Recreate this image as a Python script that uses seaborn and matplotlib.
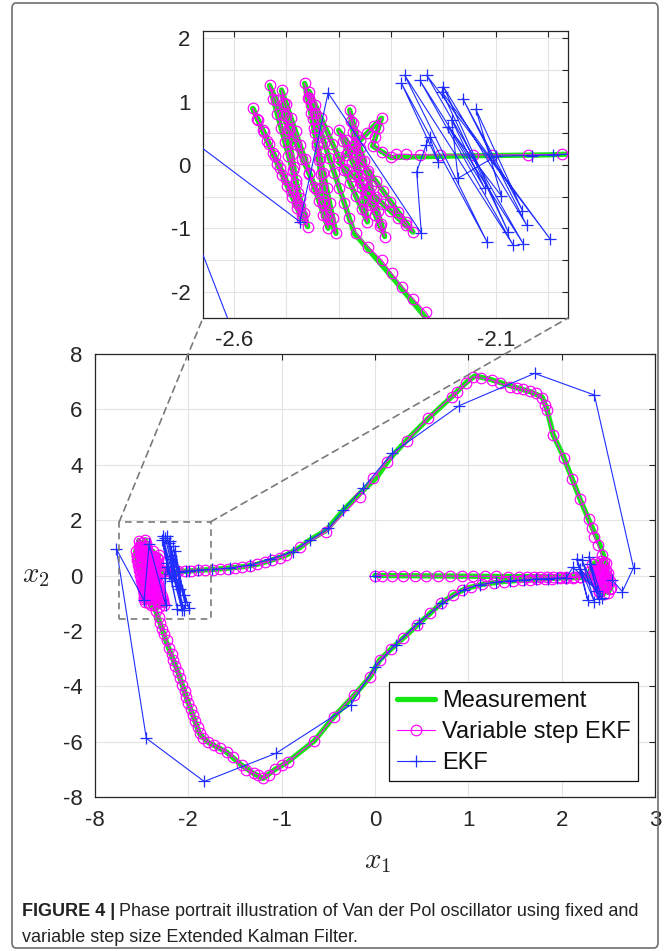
import matplotlib
matplotlib.use("Agg")
import matplotlib.pyplot as plt
import seaborn as sns
from matplotlib.lines import Line2D
from matplotlib.patches import Rectangle, ConnectionPatch, FancyBboxPatch

sns.set_theme(style="whitegrid")
plt.rcParams['font.family'] = ['Liberation Sans', 'DejaVu Sans']
plt.rcParams['mathtext.fontset'] = 'cm'
plt.rcParams['axes.unicode_minus'] = False

# ---- Measurement (green), vertices along the trajectory ----
meas_start_x = [0.00, 0.40, 0.80, 1.20, 1.60, 2.00, 2.28]
meas_start_y = [0.00, -0.01, -0.02, -0.03, -0.04, -0.05, -0.05]
meas_rclust_x = [2.33, 2.40, 2.37, 2.45, 2.42, 2.50, 2.47, 2.53, 2.36]
meas_rclust_y = [0.42, -0.60, 0.50, -0.66, 0.52, -0.62, 0.45, -0.45, -0.10]
meas_low_x = [2.20, 2.00, 1.73, 1.37, 1.15, 0.98, 0.84, 0.71, 0.59, 0.45, 0.30, 0.17, 0.05,
              -0.05, -0.23, -0.44, -0.65, -0.93, -1.07, -1.20, -1.30, -1.43, -1.59, -1.79,
              -1.88, -2.00, -2.11, -2.23, -2.30, -2.37]
meas_low_y = [-0.07, -0.09, -0.13, -0.22, -0.32, -0.46, -0.70, -1.00, -1.37, -1.80, -2.27, -2.66, -3.05,
              -3.65, -4.35, -5.10, -5.97, -6.72, -7.00, -7.33, -7.15, -6.85, -6.38, -6.02,
              -5.72, -4.60, -3.50, -2.45, -1.75, -1.08]
meas_lclust_x = [-2.465, -2.405, -2.532, -2.459, -2.564, -2.470, -2.509, -2.420, -2.456,
                 -2.345, -2.379, -2.312, -2.400, -2.258, -2.400, -2.318, -2.335, -2.300]
meas_lclust_y = [1.29, -1.08, 1.26, -0.975, 0.895, -0.85, 1.185, -1.00, 1.16,
                 -0.90, 0.87, -1.13, 0.55, -1.06, 0.04, 0.74, 0.30, 0.12]
meas_up_x = [-2.20, -2.10, -2.00, -1.90, -1.77, -1.59, -1.41, -1.27, -1.13, -0.95, -0.80, -0.70,
             -0.52, -0.34, -0.16, 0.02, 0.16, 0.34, 0.57, 0.82, 0.98, 1.07, 1.23, 1.45, 1.66,
             1.79, 1.84, 1.91, 2.02, 2.11, 2.20, 2.30, 2.41, 2.47]
meas_up_y = [0.14, 0.15, 0.16, 0.19, 0.21, 0.26, 0.32, 0.40, 0.53, 0.74, 1.02, 1.28,
             1.64, 2.36, 2.97, 3.55, 4.23, 4.89, 5.67, 6.45, 6.98, 7.21, 7.09, 6.85, 6.64,
             6.45, 6.03, 5.07, 4.29, 3.51, 2.73, 1.94, 1.10, 0.50]
meas_end_x = [2.40, 2.44, 2.52, 2.48]
meas_end_y = [-0.55, 0.40, -0.50, 0.20]

# ---- Variable step EKF (magenta circles) ----
vs_start_x = [0.00, 0.07, 0.18, 0.30, 0.43, 0.55, 0.68, 0.80, 0.93, 1.05, 1.18, 1.30,
              1.43, 1.54, 1.63, 1.70, 1.77, 1.84, 1.91, 1.98, 2.05, 2.13, 2.20, 2.28]
vs_start_y = [0.00, 0.00, -0.01, -0.01, -0.01, -0.02, -0.02, -0.02, -0.03, -0.03, -0.03, -0.03,
              -0.04, -0.04, -0.04, -0.04, -0.04, -0.05, -0.05, -0.05, -0.05, -0.05, -0.05, -0.05]
vs_rclust_x = [2.30, 2.33, 2.35, 2.37, 2.385, 2.40, 2.39, 2.38, 2.375, 2.37, 2.39, 2.41, 2.43, 2.45,
               2.44, 2.43, 2.425, 2.42, 2.44, 2.46, 2.48, 2.50, 2.49, 2.48, 2.47, 2.50, 2.52, 2.53,
               2.45, 2.36]
vs_rclust_y = [0.15, 0.42, 0.15, -0.15, -0.40, -0.60, -0.30, 0.00, 0.25, 0.50, 0.20, -0.10, -0.40, -0.66,
               -0.35, -0.05, 0.25, 0.52, 0.20, -0.10, -0.38, -0.62, -0.30, 0.05, 0.45, 0.10, -0.20, -0.45,
               -0.25, -0.10]
vs_low_x = [2.20, 2.12, 2.05, 1.98, 1.90, 1.82, 1.74, 1.66, 1.57, 1.48, 1.38, 1.27, 1.15, 1.03,
            0.93, 0.84, 0.71, 0.59, 0.45, 0.30, 0.17, 0.05, -0.05, -0.23, -0.44, -0.65, -0.93,
            -1.00, -1.07, -1.14, -1.20, -1.25, -1.30, -1.38, -1.43, -1.52, -1.59, -1.66, -1.73,
            -1.79, -1.84, -1.88, -1.90, -1.93, -1.95, -1.97, -2.00, -2.02, -2.04, -2.07, -2.09,
            -2.11, -2.14, -2.16, -2.18, -2.21, -2.233, -2.258, -2.279, -2.299, -2.318, -2.344, -2.366]
vs_low_y = [-0.07, -0.08, -0.09, -0.10, -0.11, -0.12, -0.13, -0.15, -0.17, -0.19, -0.22, -0.26, -0.32, -0.40,
            -0.52, -0.70, -1.00, -1.37, -1.80, -2.27, -2.66, -3.05, -3.65, -4.31, -5.10, -5.97, -6.72,
            -6.84, -7.00, -7.20, -7.32, -7.20, -7.14, -7.02, -6.84, -6.54, -6.36, -6.24, -6.12,
            -6.00, -5.88, -5.70, -5.48, -5.26, -5.04, -4.82, -4.60, -4.38, -4.16, -3.94, -3.72,
            -3.50, -3.28, -3.06, -2.84, -2.62, -2.33, -2.11, -1.92, -1.71, -1.50, -1.29, -1.08]
vs_lclust_x = [
    -2.380, -2.389, -2.399, -2.408, -2.418, -2.427, -2.437, -2.446, -2.456, -2.465,
    -2.459, -2.453, -2.447, -2.441, -2.435, -2.429, -2.423, -2.417, -2.411, -2.405,
    -2.418, -2.430, -2.443, -2.456, -2.469, -2.481, -2.494, -2.507, -2.519, -2.532,
    -2.525, -2.517, -2.510, -2.503, -2.496, -2.488, -2.481, -2.474, -2.466, -2.459,
    -2.470, -2.480, -2.491, -2.501, -2.512, -2.522, -2.533, -2.543, -2.554, -2.564,
    -2.555, -2.545, -2.536, -2.526, -2.517, -2.508, -2.498, -2.489, -2.479, -2.470,
    -2.474, -2.478, -2.482, -2.486, -2.490, -2.493, -2.497, -2.501, -2.505, -2.509,
    -2.500, -2.491, -2.482, -2.473, -2.465, -2.456, -2.447, -2.438, -2.429, -2.420,
    -2.424, -2.427, -2.431, -2.434, -2.438, -2.442, -2.445, -2.449, -2.452, -2.456,
    -2.445, -2.434, -2.423, -2.412, -2.401, -2.389, -2.378, -2.367, -2.356, -2.345,
    -2.348, -2.352, -2.355, -2.359, -2.362, -2.365, -2.369, -2.372, -2.376, -2.379,
    -2.372, -2.366, -2.359, -2.352, -2.346, -2.339, -2.332, -2.325, -2.319, -2.312,
    -2.321, -2.330, -2.338, -2.347, -2.356, -2.365, -2.374, -2.382, -2.391, -2.400,
    -2.386, -2.372, -2.357, -2.343, -2.329, -2.315, -2.301, -2.286, -2.272, -2.258,
    -2.272, -2.286, -2.301, -2.315, -2.329, -2.343, -2.357, -2.372, -2.386, -2.400,
    -2.386, -2.373, -2.359, -2.345, -2.332, -2.318,
    -2.324, -2.330, -2.335, -2.318, -2.300]
vs_lclust_y = [
    -0.843, -0.606, -0.369, -0.132, 0.105, 0.342, 0.579, 0.816, 1.053, 1.29,
    1.053, 0.816, 0.579, 0.342, 0.105, -0.132, -0.369, -0.606, -0.843, -1.08,
    -0.846, -0.612, -0.378, -0.144, 0.09, 0.324, 0.558, 0.792, 1.026, 1.26,
    1.037, 0.813, 0.59, 0.366, 0.143, -0.081, -0.305, -0.528, -0.752, -0.975,
    -0.788, -0.601, -0.414, -0.227, -0.04, 0.147, 0.334, 0.521, 0.708, 0.895,
    0.721, 0.546, 0.372, 0.197, 0.023, -0.152, -0.327, -0.501, -0.676, -0.85,
    -0.647, -0.443, -0.24, -0.036, 0.168, 0.371, 0.575, 0.778, 0.982, 1.185,
    0.967, 0.748, 0.53, 0.311, 0.093, -0.126, -0.345, -0.563, -0.782, -1.00,
    -0.784, -0.568, -0.352, -0.136, 0.08, 0.296, 0.512, 0.728, 0.944, 1.16,
    0.954, 0.748, 0.542, 0.336, 0.13, -0.076, -0.282, -0.488, -0.694, -0.90,
    -0.723, -0.546, -0.369, -0.192, -0.015, 0.162, 0.339, 0.516, 0.693, 0.87,
    0.67, 0.47, 0.27, 0.07, -0.13, -0.33, -0.53, -0.73, -0.93, -1.13,
    -0.962, -0.794, -0.626, -0.458, -0.29, -0.122, 0.046, 0.214, 0.382, 0.55,
    0.389, 0.228, 0.067, -0.094, -0.255, -0.416, -0.577, -0.738, -0.899, -1.06,
    -0.95, -0.84, -0.73, -0.62, -0.51, -0.40, -0.29, -0.18, -0.07, 0.04,
    0.157, 0.273, 0.39, 0.507, 0.623, 0.74,
    0.59, 0.44, 0.30, 0.21, 0.12]
vs_up_x = [-2.290, -2.271, -2.245, -2.207, -2.143, -2.108, -2.038, -1.974, -1.90, -1.82, -1.74,
           -1.66, -1.58, -1.50, -1.42, -1.34, -1.26, -1.18, -1.10, -1.02, -0.95, -0.80, -0.52,
           -0.16, -0.02, 0.125, 0.34, 0.57, 0.82, 0.88, 0.98, 1.05, 1.14, 1.25, 1.34, 1.45, 1.52,
           1.59, 1.66, 1.73, 1.79, 1.82, 1.84, 1.91, 2.02, 2.11, 2.20, 2.29, 2.32, 2.35, 2.39,
           2.43, 2.45]
vs_up_y = [0.17, 0.17, 0.16, 0.16, 0.16, 0.16, 0.16, 0.17, 0.19, 0.20, 0.21,
           0.23, 0.25, 0.28, 0.31, 0.35, 0.40, 0.47, 0.55, 0.64, 0.74, 1.02, 1.58,
           2.85, 3.51, 4.11, 4.86, 5.70, 6.45, 6.64, 6.94, 7.18, 7.14, 7.06, 6.94, 6.82, 6.76,
           6.72, 6.66, 6.58, 6.40, 6.16, 5.97, 5.07, 4.25, 3.48, 2.75, 2.03, 1.70, 1.40, 1.10,
           0.74, 0.50]
vs_end_x = [2.42, 2.40, 2.40, 2.42, 2.44, 2.48, 2.52, 2.50, 2.48]
vs_end_y = [0.10, -0.30, -0.55, -0.10, 0.40, 0.00, -0.50, -0.10, 0.20]

# ---- EKF (blue plus) ----
ekf_start_x = [0.00]
ekf_start_y = [0.00]
ekf_rclust_x = [2.30, 2.40, 2.22, 2.35, 2.16, 2.28, 2.20, 2.43, 2.29, 2.38, 2.12]
ekf_rclust_y = [0.40, -0.85, 0.55, -0.95, 0.60, -0.90, 0.25, -0.80, 0.68, -0.55, 0.30]
ekf_low_x = [2.05, 1.95, 1.85, 1.72, 1.60, 1.45, 1.30, 1.12, 0.95, 0.72, 0.47, 0.22, 0.00,
             -0.26, -1.06, -1.83, -2.45, -2.77]
ekf_low_y = [-0.08, -0.10, -0.11, -0.13, -0.16, -0.19, -0.24, -0.33, -0.52, -1.00, -1.70, -2.50, -3.30,
             -4.68, -6.42, -7.44, -5.88, 0.95]
ekf_lclust_x = [-2.474, -2.42, -2.242, -2.251, -2.233, -2.226, -2.21, -2.28, -2.117, -2.274, -2.067,
                -2.245, -2.047, -2.232, -1.996, -2.203, -2.076, -2.20, -2.041, -2.163, -2.049,
                -2.138, -2.089, -2.191, -2.121, -2.184, -2.172]
ekf_lclust_y = [-0.895, 1.14, -1.079, -0.105, 0.316, 0.437, 0.05, 1.29, -1.21, 1.42, -1.26,
                1.34, -1.25, 1.42, -1.17, 1.16, -1.06, 1.24, -0.95, 1.05, -0.72,
                0.88, -0.49, 0.605, -0.37, 0.71, -0.21]
ekf_up_x = [-2.10, -2.03, -1.99, -1.90, -1.75, -1.55, -1.34, -1.13, -0.88, -0.70, -0.50, -0.34,
            -0.13, 0.18, 0.90, 1.71, 2.35, 2.77, 2.65, 2.54]
ekf_up_y = [0.14, 0.15, 0.16, 0.19, 0.22, 0.27, 0.38, 0.58, 0.86, 1.28, 1.70, 2.36,
            3.15, 4.41, 6.13, 7.30, 6.52, 0.28, -0.58, -0.16]

meas_x = meas_start_x + meas_rclust_x + meas_low_x + meas_lclust_x + meas_up_x + meas_end_x
meas_y = meas_start_y + meas_rclust_y + meas_low_y + meas_lclust_y + meas_up_y + meas_end_y
vs_x = vs_start_x + vs_rclust_x + vs_low_x + vs_lclust_x + vs_up_x + vs_end_x
vs_y = vs_start_y + vs_rclust_y + vs_low_y + vs_lclust_y + vs_up_y + vs_end_y
ekf_x = ekf_rclust_x + ekf_low_x + ekf_lclust_x + ekf_up_x
ekf_y = ekf_rclust_y + ekf_low_y + ekf_lclust_y + ekf_up_y

# axes ticks / labels
main_xticks = [-3, -2, -1, 0, 1, 2, 3]
main_xlabels = ['-8', '-2', '-1', '0', '1', '2', '3']
main_yticks = [-8, -6, -4, -2, 0, 2, 4, 6, 8]
inset_xticks = [-2.6, -2.5, -2.4, -2.3, -2.2, -2.1, -2.0]
inset_xlabels = ['-2.6', '', '', '', '', '-2.1', '']
inset_yticks = [-2, -1.5, -1, -0.5, 0, 0.5, 1, 1.5, 2]
inset_ylabels = ['-2', '', '-1', '', '0', '', '1', '', '2']
zoom_box = (-2.74, -1.58, -1.76, 1.94)  # x0, y0, x1, y1
legend_labels = ['Measurement', 'Variable step EKF', 'EKF']
caption_bold = 'FIGURE 4 |'
caption_1 = 'Phase portrait illustration of Van der Pol oscillator using fixed and'
caption_2 = 'variable step size Extended Kalman Filter.'

GREEN = '#14e614'
MAG = '#ff00ff'
BLUE = '#1f2eff'
AXC = '#262626'
MS_O = 7.6   # circle marker size
MS_P = 8.0   # plus marker size
LW_G = 3.8   # measurement line width

W, H = 670, 951
fig = plt.figure(figsize=(W / 100, H / 100), dpi=100)
ax = fig.add_axes([95 / W, 1 - 797 / H, 560 / W, 443 / H])
axin = fig.add_axes([203 / W, 1 - 318 / H, 365 / W, 287 / H])


def draw_series(a):
    sns.lineplot(x=meas_x, y=meas_y, sort=False, estimator=None, color=GREEN,
                 linewidth=LW_G, ax=a, zorder=3)
    sns.lineplot(x=vs_x, y=vs_y, sort=False, estimator=None, color=MAG, linewidth=0.8,
                 marker='o', markersize=MS_O, markerfacecolor='none', markeredgecolor=MAG,
                 markeredgewidth=0.85, ax=a, zorder=4)
    for xs, ys in [(ekf_start_x, ekf_start_y), (ekf_x, ekf_y)]:
        sns.lineplot(x=xs, y=ys, sort=False, estimator=None, color=BLUE, linewidth=0.8,
                     marker='+', markersize=MS_P, markeredgecolor=BLUE, markeredgewidth=0.9,
                     ax=a, zorder=5)


def style_axes(a):
    a.grid(True, color='#e4e4e4', linewidth=0.8)
    a.set_axisbelow(True)
    for s in a.spines.values():
        s.set_visible(True)
        s.set_color(AXC)
        s.set_linewidth(0.9)
    a.tick_params(direction='in', length=4, width=0.8, color=AXC, labelcolor=AXC,
                  top=True, right=True, labelsize=16, pad=9)
    a.set_xlabel('')
    a.set_ylabel('')


draw_series(ax)
ax.set_xlim(-3, 3)
ax.set_ylim(-8, 8)
ax.set_xticks(main_xticks)
ax.set_xticklabels(main_xlabels)
ax.set_yticks(main_yticks)
style_axes(ax)

draw_series(axin)
axin.set_xlim(-2.659, -1.962)
axin.set_ylim(-2.417, 2.117)
axin.set_xticks(inset_xticks)
axin.set_xticklabels(inset_xlabels)
axin.set_yticks(inset_yticks)
axin.set_yticklabels(inset_ylabels)
style_axes(axin)

# zoom box and connectors
bx0, by0, bx1, by1 = zoom_box
ax.add_patch(Rectangle((bx0, by0), bx1 - bx0, by1 - by0, fill=False, edgecolor='#7a7a7a',
                       linestyle=(0, (4, 3)), linewidth=1.2, zorder=6))
for xa, xb in [(bx0, 0), (bx1, 1)]:
    con = ConnectionPatch(xyA=(xa, by1), coordsA=ax.transData, xyB=(xb, 0), coordsB=axin.transAxes,
                          color='#7a7a7a', linestyle=(0, (4, 3)), linewidth=1.2)
    fig.add_artist(con)

# legend
handles = [Line2D([], [], color=GREEN, linewidth=LW_G),
           Line2D([], [], color=MAG, linewidth=0.8, marker='o', markersize=MS_O,
                  markerfacecolor='none', markeredgewidth=0.85),
           Line2D([], [], color=BLUE, linewidth=0.8, marker='+', markersize=MS_P, markeredgewidth=0.9)]
leg = ax.legend(handles, legend_labels, loc='lower right', bbox_to_anchor=(0.970, 0.035),
                borderaxespad=0, fontsize=17, frameon=True, fancybox=False, framealpha=1,
                edgecolor='#111111', handlelength=1.6, handletextpad=0.3, labelspacing=0.38,
                borderpad=0.32)
leg.get_frame().set_linewidth(0.9)
for t in leg.get_texts():
    t.set_color('#111111')

# axis labels
fig.text(378 / W, 1 - 861 / H, r'$x_1$', fontsize=21, ha='center', va='center', color=AXC)
fig.text(36 / W, 1 - 575 / H, r'$x_2$', fontsize=21, ha='center', va='center', color=AXC)

# caption
fig.canvas.draw()
renderer = fig.canvas.get_renderer()
cap_color = '#222222'
cap_size = 13
t1 = fig.text(22 / W, 1 - 912 / H, caption_bold, fontsize=cap_size, fontweight='bold',
              va='center', ha='left', color=cap_color)
bb = t1.get_window_extent(renderer)
fig.text((bb.x1 + 4) / W, 1 - 912 / H, caption_1, fontsize=cap_size, va='center', ha='left',
         color=cap_color)
fig.text(22 / W, 1 - 937 / H, caption_2, fontsize=cap_size, va='center', ha='left', color=cap_color)

# outer frame
fig.patches.append(FancyBboxPatch((12 / W, 3 / H), 646 / W, 945 / H,
                                  boxstyle='round,pad=0,rounding_size=0.006',
                                  transform=fig.transFigure, fill=False,
                                  edgecolor='#6e6e6e', linewidth=1.2))

fig.savefig('out.png', dpi=100)
